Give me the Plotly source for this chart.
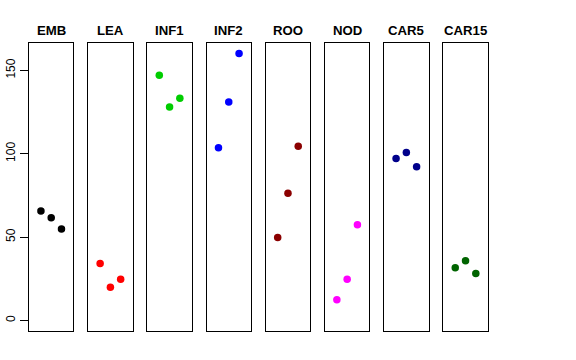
import plotly.graph_objects as go

categories = ["EMB", "LEA", "INF1", "INF2", "ROO", "NOD", "CAR5", "CAR15"]
colors = ["#000000", "#FF0000", "#00CD00", "#0000FF", "#8B0000", "#FF00FF", "#00008B", "#006400"]
replicate_x = [1, 2, 3]
emb = [65.6, 61.6, 54.8]
lea = [34.1, 19.9, 24.7]
inf1 = [147.0, 128.0, 133.2]
inf2 = [103.5, 131.0, 160.2]
roo = [49.7, 76.2, 104.5]
nod = [12.4, 24.7, 57.4]
car5 = [97.1, 100.7, 92.2]
car15 = [31.5, 35.7, 28.1]
series = [emb, lea, inf1, inf2, roo, nod, car5, car15]
y_ticks = [0, 50, 100, 150]

W, H = 576, 360
left0, step, width = 29.0, 59.19, 44.4
top_px, bot_px = 42.7, 331.0
ymax = max(max(s) for s in series)
ypad = ymax * 0.04
yrange = [-ypad, ymax + ypad]
xrange = [0 - 0.16, 4 + 0.16]

fig = go.Figure()
annotations = []
for i, (cat, col, vals) in enumerate(zip(categories, colors, series)):
    n = i + 1
    xa = "x" if n == 1 else f"x{n}"
    ya = "y" if n == 1 else f"y{n}"
    fig.add_trace(go.Scatter(x=replicate_x, y=vals, mode="markers",
                             marker=dict(color=col, size=7.5, line=dict(width=0)),
                             xaxis=xa, yaxis=ya, showlegend=False))
    l = left0 + i * step
    r = l + width
    dom_x = [l / W, r / W]
    dom_y = [(H - bot_px) / H, (H - top_px) / H]
    xkey = "xaxis" if n == 1 else f"xaxis{n}"
    ykey = "yaxis" if n == 1 else f"yaxis{n}"
    fig.layout[xkey] = dict(domain=dom_x, range=xrange, showgrid=False, zeroline=False,
                            showticklabels=False, ticks="", showline=True, mirror=True,
                            linecolor="#000000", linewidth=1, anchor=ya, automargin=False)
    yopts = dict(domain=dom_y, range=yrange, showgrid=False, zeroline=False,
                 showline=True, mirror=True, linecolor="#000000", linewidth=1, anchor=xa,
                 automargin=False)
    if n == 1:
        yopts.update(tickvals=y_ticks, ticktext=[str(t) for t in y_ticks], ticks="outside",
                     ticklen=8, tickwidth=1, tickcolor="#000000", tickangle=-90,
                     tickfont=dict(family="Liberation Sans, Arial, sans-serif", size=12, color="#000000"))
    else:
        yopts.update(showticklabels=False, ticks="")
    fig.layout[ykey] = yopts
    annotations.append(dict(text=f"<b>{cat}</b>", x=(l + r) / 2 / W, y=(H - 30.5) / H,
                            xref="paper", yref="paper", showarrow=False,
                            xanchor="center", yanchor="middle",
                            font=dict(family="Liberation Sans, Arial, sans-serif", size=13.2, color="#000000")))

fig.update_layout(width=W, height=H, margin=dict(l=0, r=0, t=0, b=0),
                  paper_bgcolor="white", plot_bgcolor="white", annotations=annotations)
fig.write_html("out.html", config={"displayModeBar": False},
               post_script="document.body.style.margin='0';document.body.style.padding='0';")
